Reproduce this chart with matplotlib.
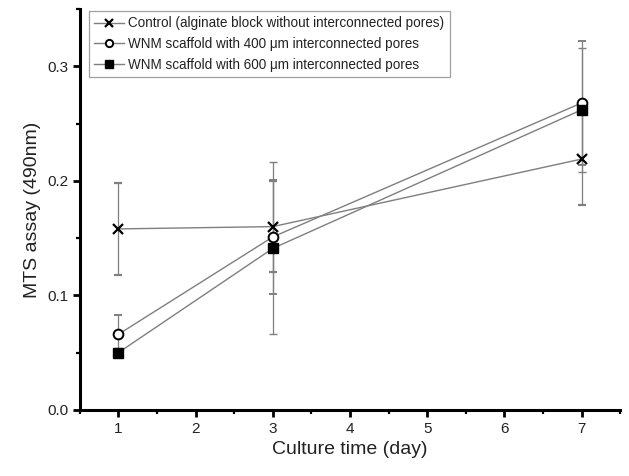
import numpy as np
import matplotlib.pyplot as plt
from matplotlib.ticker import MultipleLocator

plt.rcParams['font.family'] = ['Liberation Sans', 'DejaVu Sans']

days = [1, 3, 7]
control = [0.158, 0.160, 0.219]
control_err = [0.040, 0.040, 0.040]
wnm400 = [0.066, 0.151, 0.268]
wnm400_err = [0.017, 0.050, 0.054]
wnm600 = [0.050, 0.141, 0.262]
wnm600_err = [0.004, 0.075, 0.054]
labels = ["Control (alginate block without interconnected pores)",
          "WNM scaffold with 400 \u03bcm interconnected pores",
          "WNM scaffold with 600 \u03bcm interconnected pores"]

fig = plt.figure(figsize=(6.29, 4.76), dpi=100)
ax = fig.add_axes([0.127, 0.139, 0.859, 0.842])

line_c = '#7f7f7f'
common = dict(color=line_c, ecolor=line_c, elinewidth=0.9, capsize=3, capthick=0.9, lw=1.0,
              mec='black', ms=7)
e1 = ax.errorbar(days, control, yerr=control_err, marker='x', mew=1.6, mfc='black', **common)
e2 = ax.errorbar(days, wnm400, yerr=wnm400_err, marker='o', mew=1.4, mfc='white', **common)
e3 = ax.errorbar(days, wnm600, yerr=wnm600_err, marker='s', mew=1.0, mfc='black', **common)

ax.set_xlim(0.5, 7.5)
ax.set_ylim(0.0, 0.35)
ax.xaxis.set_major_locator(MultipleLocator(1))
ax.xaxis.set_minor_locator(MultipleLocator(0.5))
ax.yaxis.set_major_locator(MultipleLocator(0.1))
ax.yaxis.set_minor_locator(MultipleLocator(0.05))
ax.set_yticks([0.0, 0.1, 0.2, 0.3])
ax.set_yticklabels(['0.0', '0.1', '0.2', '0.3'])

for s in ['top', 'right']:
    ax.spines[s].set_visible(False)
for s in ['left', 'bottom']:
    ax.spines[s].set_linewidth(2.2)
ax.tick_params(which='major', direction='out', length=5, width=2, labelsize=11, colors='black', labelcolor='#222222')
ax.tick_params(which='minor', direction='out', length=3, width=1.6)

ax.set_xlabel('Culture time (day)', fontsize=14, color='#222222')
ax.set_ylabel('MTS assay (490nm)', fontsize=14, color='#222222')

leg = ax.legend([e1.lines[0], e2.lines[0], e3.lines[0]], labels, loc='upper left',
                bbox_to_anchor=(0.017, 0.995), frameon=True, fancybox=False, markerscale=0.75,
                fontsize=9.75, handlelength=2.2, handletextpad=0.3, borderpad=0.4,
                labelspacing=0.5, borderaxespad=0.0)
leg.get_frame().set_edgecolor('#888888')
leg.get_frame().set_linewidth(0.9)
for t in leg.get_texts():
    t.set_color('#222222')

fig.savefig('out.png', dpi=100)
